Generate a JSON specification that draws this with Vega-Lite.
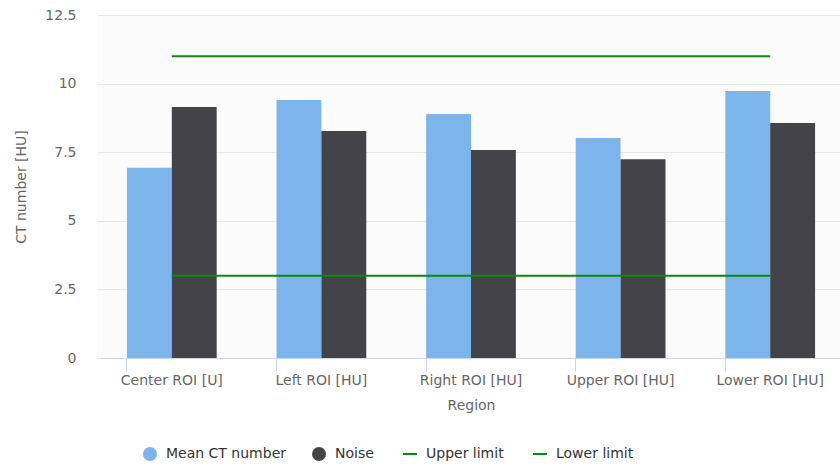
{
  "$schema": "https://vega.github.io/schema/vega-lite/v6.json",
  "width": 743,
  "height": 343,
  "autosize": {"type": "none"},
  "padding": {"left": 97, "top": 15, "right": 0, "bottom": 110},
  "background": "#ffffff",
  "config": {
    "font": "DejaVu Sans",
    "view": {"stroke": null, "fill": "#fbfbfb"},
    "axis": {"labelFontSize": 14, "labelColor": "#666666", "titleFontSize": 14, "titleColor": "#666666", "titleFontWeight": "normal"}
  },
  "datasets": {
    "bars": [
      {"Region": "Center ROI [U]", "Series": "Mean CT number", "Value": 6.93},
      {"Region": "Center ROI [U]", "Series": "Noise", "Value": 9.15},
      {"Region": "Left ROI [HU]", "Series": "Mean CT number", "Value": 9.4},
      {"Region": "Left ROI [HU]", "Series": "Noise", "Value": 8.27},
      {"Region": "Right ROI [HU]", "Series": "Mean CT number", "Value": 8.89},
      {"Region": "Right ROI [HU]", "Series": "Noise", "Value": 7.58},
      {"Region": "Upper ROI [HU]", "Series": "Mean CT number", "Value": 8.02},
      {"Region": "Upper ROI [HU]", "Series": "Noise", "Value": 7.24},
      {"Region": "Lower ROI [HU]", "Series": "Mean CT number", "Value": 9.73},
      {"Region": "Lower ROI [HU]", "Series": "Noise", "Value": 8.56}
    ],
    "limits": [
      {"Region": "Center ROI [U]", "Series": "Upper limit", "Value": 11},
      {"Region": "Lower ROI [HU]", "Series": "Upper limit", "Value": 11},
      {"Region": "Center ROI [U]", "Series": "Lower limit", "Value": 3},
      {"Region": "Lower ROI [HU]", "Series": "Lower limit", "Value": 3}
    ]
  },
  "encoding": {
    "x": {
      "field": "Region",
      "type": "nominal",
      "sort": null,
      "scale": {"domain": ["Center ROI [U]", "Left ROI [HU]", "Right ROI [HU]", "Upper ROI [HU]", "Lower ROI [HU]"], "range": [0, 748], "paddingInner": 0.4, "paddingOuter": 0.2},
      "axis": {"title": "Region", "labelAngle": 0, "bandPosition": 0, "domainColor": "#ccd6eb", "tickColor": "#ccd6eb", "tickSize": 13, "labelPadding": 2, "titlePadding": 11, "grid": false}
    },
    "y": {
      "field": "Value",
      "type": "quantitative",
      "scale": {"domain": [0, 12.5], "nice": false},
      "axis": {"title": "CT number [HU]", "values": [0, 2.5, 5, 7.5, 10, 12.5], "labelExpr": "'' + datum.value", "domain": false, "ticks": false, "labelPadding": 21, "titlePadding": 16, "gridColor": "#e6e6e6"}
    },
    "color": {
      "field": "Series",
      "type": "nominal",
      "scale": {"domain": ["Mean CT number", "Noise", "Upper limit", "Lower limit"], "range": ["#7cb5ec", "#434348", "#0b8a0b", "#0b8a0b"]},
      "legend": {
        "title": null,
        "orient": "none",
        "legendX": 46,
        "legendY": 432,
        "direction": "horizontal",
        "columns": 4,
        "labelFontSize": 14,
        "labelColor": "#333333",
        "symbolType": "circle",
        "symbolSize": 196,
        "labelOffset": 9,
        "columnPadding": 25,
        "encode": {
          "symbols": {
            "update": {
              "shape": {"signal": "indexof(['Upper limit','Lower limit'], datum.value) >= 0 ? 'stroke' : 'circle'"},
              "fill": {"signal": "scale('color', datum.value)"},
              "stroke": {"signal": "scale('color', datum.value)"},
              "strokeWidth": {"signal": "indexof(['Upper limit','Lower limit'], datum.value) >= 0 ? 2 : 0"},
              "opacity": {"value": 1},
              "fillOpacity": {"value": 1}
            }
          }
        }
      }
    }
  },
  "layer": [
    {
      "data": {"name": "bars"},
      "mark": {"type": "bar", "opacity": 1},
      "encoding": {
        "xOffset": {"field": "Series", "type": "nominal", "scale": {"domain": ["Mean CT number", "Noise"], "paddingInner": 0, "paddingOuter": 0}}
      }
    },
    {
      "data": {"name": "limits"},
      "mark": {"type": "line", "strokeWidth": 2},
      "encoding": {"detail": {"field": "Series"}}
    }
  ]
}
